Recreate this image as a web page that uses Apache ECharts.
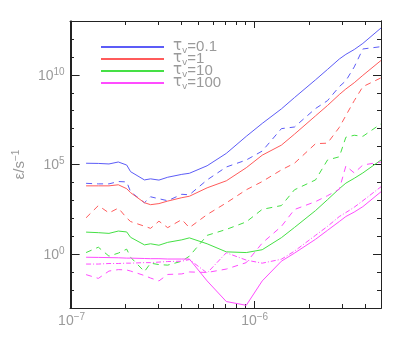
<!DOCTYPE html>
<html>
<head>
<meta charset="utf-8">
<script src="https://cdn.jsdelivr.net/npm/echarts@6/dist/echarts.min.js"></script>
<style>
  html, body { margin: 0; padding: 0; background: #fff; }
  #chart { width: 407px; height: 350px; }
</style>
</head>
<body>
<div id="chart"></div>
<script>
// wavelength grid (m)
var wavelengths = [1.2e-7, 1.4e-7, 1.6e-7, 1.8e-7, 2.0e-7, 2.1e-7, 2.5e-7, 2.7e-7, 3.0e-7, 3.35e-7,
  4.0e-7, 4.4e-7, 5.5e-7, 7.0e-7, 9.0e-7, 1.1e-6, 1.4e-6, 1.65e-6, 2.15e-6, 2.5e-6,
  2.9e-6, 3.15e-6, 3.5e-6, 3.9e-6, 4.9e-6];

// log10(epsilon / s^-1)
var tau01Solid = [5.07, 5.06, 5.03, 5.14, 4.97, 4.60, 4.14, 4.20, 4.13, 4.29,
  4.45, 4.51, 4.93, 5.62, 6.57, 7.29, 8.10, 8.73, 9.72, 10.30,
  10.88, 11.14, 11.41, 11.75, 12.61];
var tau01Dashed = [3.95, 3.92, 3.92, 4.05, 4.03, 3.48, 2.87, 3.20, 3.09, 2.98,
  3.34, 3.31, 4.14, 4.86, 5.25, 5.75, 7.00, 7.09, 8.12, 8.56,
  9.34, 9.67, 10.44, 11.44, 11.57];
var tau1Solid = [3.81, 3.81, 3.81, 3.87, 3.65, 3.43, 2.87, 2.76, 2.82, 2.96,
  3.15, 3.23, 3.70, 4.09, 4.82, 5.52, 6.08, 6.69, 7.71, 8.29,
  8.90, 9.21, 9.56, 9.97, 10.80];
var tau1Dashed = [2.03, 2.71, 2.30, 2.57, 2.02, 1.82, 1.56, 1.44, 1.84, 1.48,
  1.93, 1.48, 2.21, 2.86, 3.59, 4.05, 4.70, 5.07, 6.16, 6.19,
  7.07, 7.73, 8.56, 9.34, 9.83];
var tau10Solid = [1.23, 1.20, 1.16, 1.29, 1.24, 0.94, 0.52, 0.58, 0.50, 0.66,
  0.80, 0.91, 0.58, 0.13, 0.09, 0.25, 0.92, 1.49, 2.43, 3.04,
  3.65, 3.96, 4.23, 4.53, 5.25];
var tau10Dashed = [0.09, 0.39, -0.11, 0.06, 0.28, -0.17, -0.97, -0.50, -0.58, -0.61,
  -0.39, -0.11, 1.05, 1.38, 1.80, 2.50, 2.71, 3.59, 4.14, 5.25,
  5.43, 6.52, 6.63, 6.57, 7.27];
var tau100Solid = [-0.17, -0.18, -0.19, -0.20, -0.22, -0.22, -0.24, -0.25, -0.25, -0.27,
  -0.27, -0.27, -1.49, -2.64, -2.85, -1.49, -0.39, 0.06, 0.83, 1.33,
  1.82, 2.10, 2.35, 2.65, 3.48];
var tau100Dashed = [-1.14, -1.35, -0.94, -0.86, -0.88, -0.94, -1.19, -1.33, -1.49, -1.13,
  -1.10, -0.99, -1.02, -0.83, -0.47, 0.62, 1.55, 2.49, 2.93, 3.26,
  3.62, 4.92, 4.53, 4.97, 5.14];
var tau100DashDot = [-0.55, -0.55, -0.52, -0.52, -0.50, -0.50, -0.47, -0.47, -0.44, -0.41,
  -0.39, -0.30, -1.05, 0.08, -0.33, -0.50, -0.28, 0.17, 1.05, 1.55,
  2.10, 2.32, 2.62, 2.98, 3.76];

var tauLabels = ['0.1', '1', '10', '100'];
var colors = ['#5c5cf7', '#ff5b5b', '#45e045', '#ff4cff'];

// axes (log10 units)
var xMin = -7, xMax = Math.log10(4.9e-6);
var yMin = -3, yMax = 13;
var xMajorTicks = [-7, -6];
var xMinorTicks = [2e-7, 3e-7, 4e-7, 5e-7, 6e-7, 7e-7, 8e-7, 9e-7, 2e-6, 3e-6, 4e-6].map(Math.log10);
var yMajorTicks = [0, 5, 10];
var yMinorTicks = [-3, -2, -1, 1, 2, 3, 4, 6, 7, 8, 9, 11, 12, 13];

function pairs(vals) {
  return wavelengths.map(function (w, i) { return [Math.log10(w), vals[i]]; });
}
function expLabel(v) {
  var s = v < 0 ? '\u2212' + (-v) : String(v);
  return '{b|10}{s|' + s + '}';
}

var labelRich = {
  b: { fontSize: 14, color: '#9a9a9a', fontFamily: 'Liberation Sans', lineHeight: 16, padding: [4, 0, 0, 0], verticalAlign: 'bottom' },
  s: { fontSize: 10, color: '#9a9a9a', fontFamily: 'Liberation Sans', lineHeight: 10, verticalAlign: 'top' }
};
var lineCol = '#222';

function xAxisDef(grid, pos, ticks, len, labels) {
  return {
    type: 'value', gridIndex: grid, position: pos, min: xMin, max: xMax,
    axisLine: { show: true, onZero: false, lineStyle: { color: lineCol, width: 1 } },
    splitLine: { show: false },
    axisTick: { show: true, inside: true, length: len, customValues: ticks, lineStyle: { color: lineCol } },
    axisLabel: labels ? { show: true, customValues: ticks, margin: 4, formatter: expLabel, rich: labelRich } : { show: false }
  };
}
function yAxisDef(grid, pos, ticks, len, labels) {
  var a = {
    type: 'value', gridIndex: grid, position: pos, min: yMin, max: yMax,
    axisLine: { show: true, onZero: false, lineStyle: { color: lineCol, width: 1 } },
    splitLine: { show: false },
    axisTick: { show: true, inside: true, length: len, customValues: ticks, lineStyle: { color: lineCol } },
    axisLabel: labels ? { show: true, customValues: ticks, margin: 7, formatter: expLabel, rich: labelRich } : { show: false }
  };
  if (labels) {
    a.name = '{a|\u03b5/s}{s|\u22121}';
    a.nameLocation = 'middle';
    a.nameGap = 38;
    a.nameTextStyle = {
      rich: {
        a: { fontSize: 15, color: '#9a9a9a', fontFamily: 'Liberation Sans', lineHeight: 16, padding: [4, 0, 0, 0], verticalAlign: 'bottom' },
        s: { fontSize: 10, color: '#9a9a9a', fontFamily: 'Liberation Sans', lineHeight: 10, verticalAlign: 'top' }
      }
    };
  }
  return a;
}

function lineSeries(name, vals, color, type) {
  return {
    name: name, type: 'line', data: pairs(vals), xAxisIndex: 0, yAxisIndex: 0,
    showSymbol: false, symbol: 'none', silent: true,
    lineStyle: { color: color, width: 1, type: type },
    itemStyle: { color: color }
  };
}

var solids = [tau01Solid, tau1Solid, tau10Solid, tau100Solid];
var dashes = [tau01Dashed, tau1Dashed, tau10Dashed, tau100Dashed];

var series = [];
tauLabels.forEach(function (t, i) {
  series.push(lineSeries(t, solids[i], colors[i], 'solid'));
  series.push(lineSeries(t + ' dashed', dashes[i], colors[i], [6, 5]));
});
series.push(lineSeries('100 dashdot', tau100DashDot, colors[3], [5, 2, 1, 2]));

var myChart = echarts.init(document.getElementById('chart'), null, { renderer: 'canvas' });
var option = {
  animation: false,
  backgroundColor: '#fff',
  grid: [
    { left: 70, right: 26, top: 21, bottom: 42 },
    { left: 70, right: 26, top: 21, bottom: 42 }
  ],
  xAxis: [
    xAxisDef(0, 'bottom', xMajorTicks, 7, true),
    xAxisDef(0, 'top', xMajorTicks, 7, false),
    xAxisDef(1, 'bottom', xMinorTicks, 4, false),
    xAxisDef(1, 'top', xMinorTicks, 4, false)
  ],
  yAxis: [
    yAxisDef(0, 'left', yMajorTicks, 8, true),
    yAxisDef(0, 'right', yMajorTicks, 8, false),
    yAxisDef(1, 'left', yMinorTicks, 4, false),
    yAxisDef(1, 'right', yMinorTicks, 4, false)
  ],
  legend: {
    data: tauLabels,
    orient: 'vertical',
    left: 96, top: 34,
    itemWidth: 63, itemHeight: 2, itemGap: -4,
    icon: 'rect',
    selectedMode: false,
    formatter: function (name) { return '{t|\u03c4}{v|v}{n|=' + name + '}'; },
    textStyle: {
      padding: [0, 0, 0, 4],
      rich: {
        t: { fontSize: 15, color: '#9a9a9a', fontFamily: 'DejaVu Sans', lineHeight: 16, verticalAlign: 'top' },
        v: { fontSize: 9, color: '#9a9a9a', fontFamily: 'DejaVu Sans', lineHeight: 10, verticalAlign: 'bottom' },
        n: { fontSize: 15, color: '#9a9a9a', fontFamily: 'Liberation Sans', lineHeight: 16, verticalAlign: 'top' }
      }
    }
  },
  series: series
};
option && myChart.setOption(option);
</script>
</body>
</html>
